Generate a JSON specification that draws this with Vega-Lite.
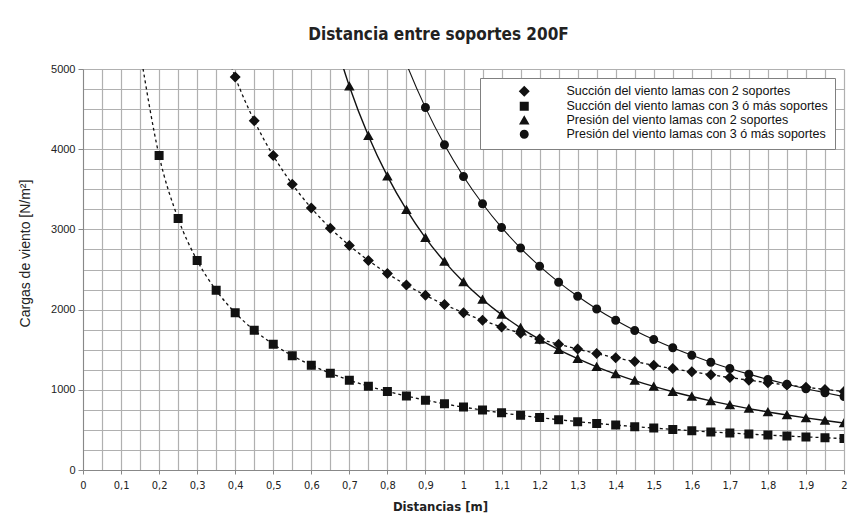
{
  "$schema": "https://vega.github.io/schema/vega-lite/v6.json",
  "width": 761,
  "height": 401,
  "autosize": {"type": "none"},
  "padding": {"left": 83, "top": 69, "right": 17, "bottom": 62},
  "background": "white",
  "title": {
    "text": "Distancia entre soportes 200F",
    "font": "DejaVu Sans Condensed",
    "fontSize": 17,
    "fontWeight": "bold",
    "color": "#222222",
    "anchor": "middle",
    "baseline": "alphabetic",
    "offset": 27,
    "dx": -25,
    "dy": 21
  },
  "config": {
    "view": {"stroke": null},
    "axis": {
      "gridColor": "#b0b0b0",
      "gridWidth": 1.2,
      "domainColor": "#888888",
      "tickColor": "#888888",
      "labelColor": "#222222",
      "titleColor": "#222222"
    }
  },
  "data": {
    "values": [
      {"s": "S2", "d": 0.35, "v": 5600},
      {"s": "S2", "d": 0.4, "v": 4900},
      {"s": "S2", "d": 0.45, "v": 4355.6},
      {"s": "S2", "d": 0.5, "v": 3920},
      {"s": "S2", "d": 0.55, "v": 3563.6},
      {"s": "S2", "d": 0.6, "v": 3266.7},
      {"s": "S2", "d": 0.65, "v": 3015.4},
      {"s": "S2", "d": 0.7, "v": 2800},
      {"s": "S2", "d": 0.75, "v": 2613.3},
      {"s": "S2", "d": 0.8, "v": 2450},
      {"s": "S2", "d": 0.85, "v": 2305.9},
      {"s": "S2", "d": 0.9, "v": 2177.8},
      {"s": "S2", "d": 0.95, "v": 2063.2},
      {"s": "S2", "d": 1.0, "v": 1960},
      {"s": "S2", "d": 1.05, "v": 1866.7},
      {"s": "S2", "d": 1.1, "v": 1781.8},
      {"s": "S2", "d": 1.15, "v": 1704.3},
      {"s": "S2", "d": 1.2, "v": 1633.3},
      {"s": "S2", "d": 1.25, "v": 1568},
      {"s": "S2", "d": 1.3, "v": 1507.7},
      {"s": "S2", "d": 1.35, "v": 1451.9},
      {"s": "S2", "d": 1.4, "v": 1400},
      {"s": "S2", "d": 1.45, "v": 1351.7},
      {"s": "S2", "d": 1.5, "v": 1306.7},
      {"s": "S2", "d": 1.55, "v": 1264.5},
      {"s": "S2", "d": 1.6, "v": 1225},
      {"s": "S2", "d": 1.65, "v": 1187.9},
      {"s": "S2", "d": 1.7, "v": 1152.9},
      {"s": "S2", "d": 1.75, "v": 1120},
      {"s": "S2", "d": 1.8, "v": 1088.9},
      {"s": "S2", "d": 1.85, "v": 1059.5},
      {"s": "S2", "d": 1.9, "v": 1031.6},
      {"s": "S2", "d": 1.95, "v": 1005.1},
      {"s": "S2", "d": 2.0, "v": 980},
      {"s": "S3", "d": 0.15, "v": 5226.7},
      {"s": "S3", "d": 0.2, "v": 3920},
      {"s": "S3", "d": 0.25, "v": 3136},
      {"s": "S3", "d": 0.3, "v": 2613.3},
      {"s": "S3", "d": 0.35, "v": 2240},
      {"s": "S3", "d": 0.4, "v": 1960},
      {"s": "S3", "d": 0.45, "v": 1742.2},
      {"s": "S3", "d": 0.5, "v": 1568},
      {"s": "S3", "d": 0.55, "v": 1425.5},
      {"s": "S3", "d": 0.6, "v": 1306.7},
      {"s": "S3", "d": 0.65, "v": 1206.2},
      {"s": "S3", "d": 0.7, "v": 1120},
      {"s": "S3", "d": 0.75, "v": 1045.3},
      {"s": "S3", "d": 0.8, "v": 980},
      {"s": "S3", "d": 0.85, "v": 922.4},
      {"s": "S3", "d": 0.9, "v": 871.1},
      {"s": "S3", "d": 0.95, "v": 825.3},
      {"s": "S3", "d": 1.0, "v": 784},
      {"s": "S3", "d": 1.05, "v": 746.7},
      {"s": "S3", "d": 1.1, "v": 712.7},
      {"s": "S3", "d": 1.15, "v": 681.7},
      {"s": "S3", "d": 1.2, "v": 653.3},
      {"s": "S3", "d": 1.25, "v": 627.2},
      {"s": "S3", "d": 1.3, "v": 603.1},
      {"s": "S3", "d": 1.35, "v": 580.7},
      {"s": "S3", "d": 1.4, "v": 560},
      {"s": "S3", "d": 1.45, "v": 540.7},
      {"s": "S3", "d": 1.5, "v": 522.7},
      {"s": "S3", "d": 1.55, "v": 505.8},
      {"s": "S3", "d": 1.6, "v": 490},
      {"s": "S3", "d": 1.65, "v": 475.2},
      {"s": "S3", "d": 1.7, "v": 461.2},
      {"s": "S3", "d": 1.75, "v": 448},
      {"s": "S3", "d": 1.8, "v": 435.6},
      {"s": "S3", "d": 1.85, "v": 423.8},
      {"s": "S3", "d": 1.9, "v": 412.6},
      {"s": "S3", "d": 1.95, "v": 402.1},
      {"s": "S3", "d": 2.0, "v": 392},
      {"s": "P2", "d": 0.65, "v": 5550.3},
      {"s": "P2", "d": 0.7, "v": 4785.7},
      {"s": "P2", "d": 0.75, "v": 4168.9},
      {"s": "P2", "d": 0.8, "v": 3664.1},
      {"s": "P2", "d": 0.85, "v": 3245.7},
      {"s": "P2", "d": 0.9, "v": 2895.1},
      {"s": "P2", "d": 0.95, "v": 2598.3},
      {"s": "P2", "d": 1.0, "v": 2345},
      {"s": "P2", "d": 1.05, "v": 2127},
      {"s": "P2", "d": 1.1, "v": 1938},
      {"s": "P2", "d": 1.15, "v": 1773.2},
      {"s": "P2", "d": 1.2, "v": 1628.5},
      {"s": "P2", "d": 1.25, "v": 1500.8},
      {"s": "P2", "d": 1.3, "v": 1387.6},
      {"s": "P2", "d": 1.35, "v": 1286.7},
      {"s": "P2", "d": 1.4, "v": 1196.4},
      {"s": "P2", "d": 1.45, "v": 1115.3},
      {"s": "P2", "d": 1.5, "v": 1042.2},
      {"s": "P2", "d": 1.55, "v": 976.1},
      {"s": "P2", "d": 1.6, "v": 916},
      {"s": "P2", "d": 1.65, "v": 861.3},
      {"s": "P2", "d": 1.7, "v": 811.4},
      {"s": "P2", "d": 1.75, "v": 765.7},
      {"s": "P2", "d": 1.8, "v": 723.8},
      {"s": "P2", "d": 1.85, "v": 685.2},
      {"s": "P2", "d": 1.9, "v": 649.6},
      {"s": "P2", "d": 1.95, "v": 616.7},
      {"s": "P2", "d": 2.0, "v": 586.3},
      {"s": "P3", "d": 0.8, "v": 5718.8},
      {"s": "P3", "d": 0.85, "v": 5065.7},
      {"s": "P3", "d": 0.9, "v": 4518.5},
      {"s": "P3", "d": 0.95, "v": 4055.4},
      {"s": "P3", "d": 1.0, "v": 3660},
      {"s": "P3", "d": 1.05, "v": 3319.7},
      {"s": "P3", "d": 1.1, "v": 3024.8},
      {"s": "P3", "d": 1.15, "v": 2767.5},
      {"s": "P3", "d": 1.2, "v": 2541.7},
      {"s": "P3", "d": 1.25, "v": 2342.4},
      {"s": "P3", "d": 1.3, "v": 2165.7},
      {"s": "P3", "d": 1.35, "v": 2008.2},
      {"s": "P3", "d": 1.4, "v": 1867.3},
      {"s": "P3", "d": 1.45, "v": 1740.8},
      {"s": "P3", "d": 1.5, "v": 1626.7},
      {"s": "P3", "d": 1.55, "v": 1523.4},
      {"s": "P3", "d": 1.6, "v": 1429.7},
      {"s": "P3", "d": 1.65, "v": 1344.4},
      {"s": "P3", "d": 1.7, "v": 1266.4},
      {"s": "P3", "d": 1.75, "v": 1195.1},
      {"s": "P3", "d": 1.8, "v": 1129.6},
      {"s": "P3", "d": 1.85, "v": 1069.4},
      {"s": "P3", "d": 1.9, "v": 1013.9},
      {"s": "P3", "d": 1.95, "v": 962.6},
      {"s": "P3", "d": 2.0, "v": 915}
    ]
  },
  "encoding": {
    "x": {
      "field": "d",
      "type": "quantitative",
      "scale": {"domain": [0, 2], "nice": false},
      "axis": {
        "title": "Distancias [m]",
        "titleFont": "DejaVu Sans Condensed",
        "titleFontSize": 13,
        "titleFontWeight": "bold",
        "titleX": 357,
        "titleY": 36,
        "titleBaseline": "middle",
        "values": [0,0.05,0.1,0.15,0.2,0.25,0.3,0.35,0.4,0.45,0.5,0.55,0.6,0.65,0.7,0.75,0.8,0.85,0.9,0.95,1,1.05,1.1,1.15,1.2,1.25,1.3,1.35,1.4,1.45,1.5,1.55,1.6,1.65,1.7,1.75,1.8,1.85,1.9,1.95,2],
        "labelExpr": "round(datum.value*20) % 2 === 0 ? replace(format(datum.value, '~g'), '.', ',') : ''",
        "labelFont": "DejaVu Sans Condensed",
        "labelFontSize": 11,
        "labelFlush": false,
        "labelOverlap": false,
        "labelPadding": 5,
        "tickSize": 4,
        "tickOpacity": {"condition": {"test": "round(datum.value*20) % 2 === 0", "value": 1}, "value": 0}
      }
    },
    "y": {
      "field": "v",
      "type": "quantitative",
      "scale": {"domain": [0, 5000], "nice": false},
      "axis": {
        "title": "Cargas de viento [N/m²]",
        "titleFont": "Liberation Sans",
        "titleFontSize": 14,
        "titleFontWeight": "normal",
        "titleX": -58,
        "titleY": 184,
        "titleBaseline": "middle",
        "values": [0,250,500,750,1000,1250,1500,1750,2000,2250,2500,2750,3000,3250,3500,3750,4000,4250,4500,4750,5000],
        "format": "d",
        "labelExpr": "datum.value % 1000 === 0 ? datum.label : ''",
        "labelFont": "Liberation Sans",
        "labelFontSize": 11,
        "labelOverlap": false,
        "labelPadding": 3,
        "tickSize": 5,
        "tickOpacity": {"condition": {"test": "datum.value % 1000 === 0", "value": 1}, "value": 0}
      }
    }
  },
  "layer": [
    {
      "transform": [{"filter": "datum.s === 'S2' || datum.s === 'S3'"}],
      "mark": {"type": "line", "clip": true, "interpolate": "monotone", "color": "#111111", "strokeDash": [3, 3], "strokeWidth": 1.3},
      "encoding": {"detail": {"field": "s", "type": "nominal"}}
    },
    {
      "transform": [{"filter": "datum.s === 'P2'"}],
      "mark": {"type": "line", "clip": true, "interpolate": "monotone", "color": "#111111", "strokeWidth": 1.4},
      "encoding": {"detail": {"field": "s", "type": "nominal"}}
    },
    {
      "transform": [{"filter": "datum.s === 'P3'"}],
      "mark": {"type": "line", "clip": true, "interpolate": "monotone", "color": "#111111", "strokeWidth": 1.1},
      "encoding": {"detail": {"field": "s", "type": "nominal"}}
    },
    {
      "transform": [{"filter": "datum.v <= 5000"}],
      "mark": {"type": "point", "filled": true, "opacity": 1, "clip": true, "color": "#111111", "size": 100},
      "encoding": {
        "strokeDash": {
          "field": "s",
          "type": "nominal",
          "scale": {"domain": ["S2", "S3", "P2", "P3"], "range": [[1.5, 1.5], [1.5, 1.5], [1, 0], [1, 0]]}
        },
        "shape": {
          "field": "s",
          "type": "nominal",
          "scale": {
            "domain": ["S2", "S3", "P2", "P3"],
            "range": [
              "M-7.4,0H7.4M0,-1.1L1.1,0L0,1.1L-1.1,0Z",
              "M-7.4,0H7.4M-0.9,-0.9H0.9V0.9H-0.9Z",
              "M-7.4,0H7.4M0,-1L1.05,0.85H-1.05Z",
              "M-7.4,0H7.4M0.9,0A0.9,0.9 0 1,1 -0.9,0A0.9,0.9 0 1,1 0.9,0Z"
            ]
          },
          "legend": {
            "title": null,
            "orient": "top-right",
            "offset": 9,
            "fillColor": "white",
            "strokeColor": "#808080",
            "padding": 7,
            "rowPadding": -2,
            "symbolSize": 100,
            "symbolStrokeWidth": 1.4,
            "symbolStrokeColor": "#111111",
            "symbolFillColor": "#111111",
            "symbolOffset": 31,
            "labelOffset": 36,
            "labelFont": "Liberation Sans",
            "labelFontSize": 12.5,
            "labelColor": "#111111",
            "labelLimit": 400,
            "labelExpr": "datum.value === 'S2' ? 'Succión del viento lamas con 2 soportes' : datum.value === 'S3' ? 'Succión del viento lamas con 3 ó más soportes' : datum.value === 'P2' ? 'Presión del viento lamas con 2 soportes' : 'Presión del viento lamas con 3 ó más soportes'",
            "encode": {
              "symbols": {
                "update": {
                  "fill": {"value": "#111111"},
                  "stroke": {"value": "#111111"},
                  "opacity": {"value": 1},
                  "strokeWidth": [{"test": "datum.value === 'P2'", "value": 2.2}, {"value": 1.3}],
                  "strokeDash": [{"test": "datum.value === 'S2' || datum.value === 'S3'", "value": [1.5, 1.5]}, {"value": [1, 0]}]
                }
              }
            }
          }
        }
      }
    }
  ]
}
